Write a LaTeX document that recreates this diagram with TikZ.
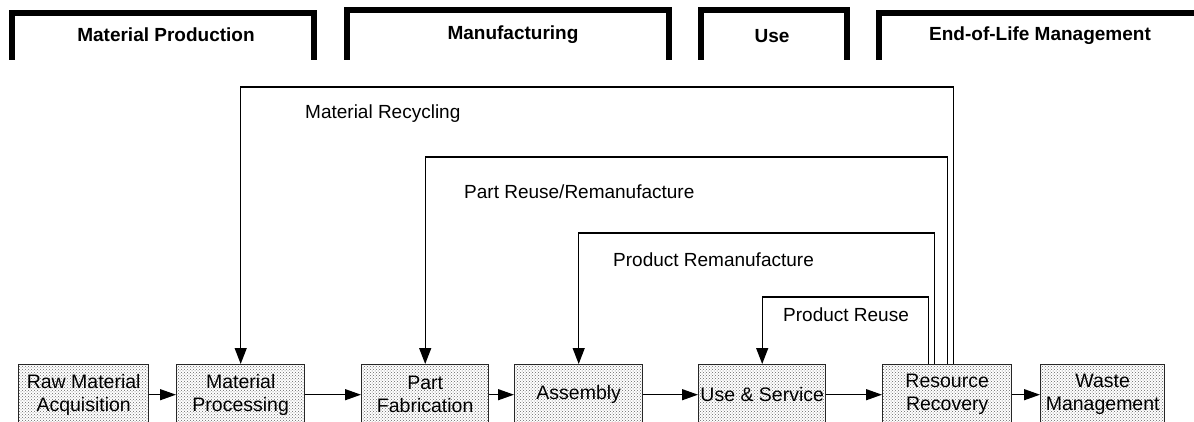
\documentclass[tikz,border=0pt]{standalone}
\usepackage{fontspec}
\setmainfont{Liberation Sans}
\usetikzlibrary{arrows.meta,calc,patterns}
\begin{document}
\begin{tikzpicture}[x=1pt,y=-1pt,
  hdr/.style={line width=6pt, line cap=butt, line join=miter},
  hdrtext/.style={font=\bfseries\fontsize{19}{23}\selectfont, inner sep=0pt},
  stage/.style={draw=black!85, line width=1.4pt, preaction={fill=white},
    pattern=crosshatch dots, pattern color=black!60, minimum height=60pt,
    inner sep=0pt, anchor=north west, align=center,
    font=\fontsize{19.5}{23}\selectfont},
  flow/.style={line width=1.3pt, -{Triangle[length=16pt,width=11pt]}},
  fb/.style={line width=1.3pt, -{Triangle[length=16pt,width=12pt]}},
  lbl/.style={anchor=west, inner sep=0pt, font=\fontsize{19}{23}\selectfont}
]
\useasboundingbox (0,0) rectangle (1194,422);
\clip (0,0) rectangle (1194,422);
\fill[white] (0,0) rectangle (1194,422);

% phase brackets
\draw[hdr] (12,60) -- (12,13) -- (314,13) -- (314,60);
\draw[hdr] (347,60) -- (347,10) -- (669,10) -- (669,60);
\draw[hdr] (701,60) -- (701,10) -- (847,10) -- (847,60);
\draw[hdr] (879,60) -- (879,13) -- (1210,13);
\node[hdrtext] (hmp) at (166,35) {Material Production};
\node[hdrtext] (hmf) at (513,35) {Manufacturing};
\node[hdrtext] (hus) at (772,36) {Use};
\node[hdrtext] (hel) at (1040,36) {End-of-Life Management};

% stages
\node[stage, minimum width=130pt] (b1) at (18,364) {Raw Material\\Acquisition};
\node[stage, minimum width=128pt] (b2) at (176,364) {Material\\Processing};
\node[stage, minimum width=127pt] (b3) at (361,364) {Part\\Fabrication};
\node[stage, minimum width=128pt] (b4) at (514,364) {Assembly};
\node[stage, minimum width=127pt] (b5) at (698,364) {Use \& Service};
\node[stage, minimum width=129pt] (b6) at (882,364) {Resource\\Recovery};
\node[stage, minimum width=124pt] (b7) at (1040,364) {Waste\\Management};

% forward flow
\draw[flow] (b1) -- (b2);
\draw[flow] (b2) -- (b3);
\draw[flow] (b3) -- (b4);
\draw[flow] (b4) -- (b5);
\draw[flow] (b5) -- (b6);
\draw[flow] (b6) -- (b7);

% feedback loops
\coordinate (y1) at (0,87);
\coordinate (y2) at (0,157);
\coordinate (y3) at (0,233);
\coordinate (y4) at (0,297);
\coordinate (r1) at ($(b6.north)+(6.5,0)$);
\coordinate (r2) at ($(b6.north)+(0.5,0)$);
\coordinate (r3) at ($(b6.north)+(-12.5,0)$);
\coordinate (r4) at ($(b6.north)+(-18.5,0)$);
\draw[fb] (r1) -- (r1 |- y1) -- (b2.north |- y1) -- (b2.north);
\draw[fb] (r2) -- (r2 |- y2) -- (b3.north |- y2) -- (b3.north);
\draw[fb] (r3) -- (r3 |- y3) -- (b4.north |- y3) -- (b4.north);
\draw[fb] (r4) -- (r4 |- y4) -- (b5.north |- y4) -- (b5.north);

\node[lbl] (l1) at (305,114) {Material Recycling};
\node[lbl] (l2) at (464,192) {Part Reuse/Remanufacture};
\node[lbl] (l3) at (613,260) {Product Remanufacture};
\node[lbl] (l4) at (783,315) {Product Reuse};
\end{tikzpicture}
\end{document}
